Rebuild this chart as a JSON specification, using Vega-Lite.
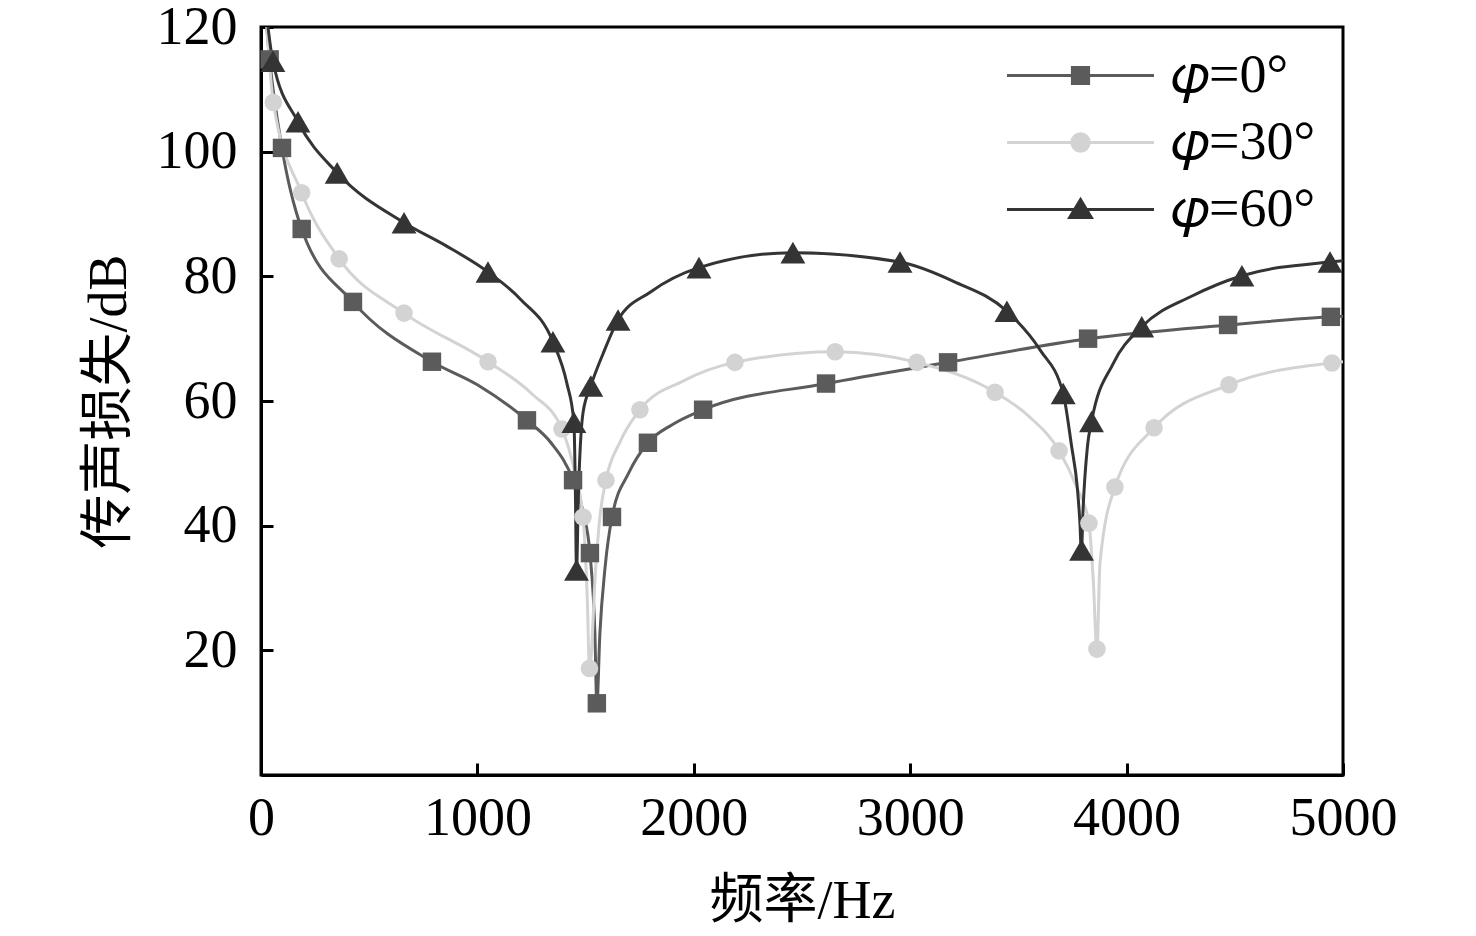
{
  "$schema": "https://vega.github.io/schema/vega-lite/v6.json",
  "description": "Transmission loss vs frequency for three incidence angles",
  "width": 1082,
  "height": 748,
  "autosize": {"type": "none"},
  "padding": {"left": 261, "top": 27, "right": 133, "bottom": 161},
  "background": "white",
  "config": {
    "view": {"stroke": "black", "strokeWidth": 3},
    "axis": {
      "grid": false,
      "domainColor": "black",
      "domainWidth": 3,
      "tickColor": "black",
      "tickWidth": 3,
      "tickSize": -12,
      "labelFont": "Liberation Serif",
      "labelFontSize": 54,
      "labelColor": "black",
      "titleFont": "Liberation Serif, Noto Sans CJK SC",
      "titleFontSize": 54,
      "titleFontWeight": "normal",
      "titleColor": "black"
    }
  },
  "datasets": {
    "curves": [
      {"f": 8, "tl": 128, "phi": "0"}, {"f": 40, "tl": 114.8, "phi": "0"}, {"f": 97, "tl": 100.6, "phi": "0"},
      {"f": 188, "tl": 87.6, "phi": "0"}, {"f": 425, "tl": 75.9, "phi": "0"}, {"f": 790, "tl": 66.3, "phi": "0"},
      {"f": 1000, "tl": 62.6, "phi": "0"}, {"f": 1229, "tl": 56.9, "phi": "0"}, {"f": 1340, "tl": 53.3, "phi": "0"},
      {"f": 1442, "tl": 47.3, "phi": "0"}, {"f": 1490, "tl": 42, "phi": "0"}, {"f": 1520, "tl": 35.6, "phi": "0"},
      {"f": 1543, "tl": 22.7, "phi": "0"}, {"f": 1552, "tl": 11.2, "phi": "0"}, {"f": 1566, "tl": 22.7, "phi": "0"},
      {"f": 1590, "tl": 33.3, "phi": "0"}, {"f": 1622, "tl": 41.4, "phi": "0"}, {"f": 1700, "tl": 48.5, "phi": "0"},
      {"f": 1788, "tl": 53.3, "phi": "0"}, {"f": 1900, "tl": 56.2, "phi": "0"}, {"f": 2043, "tl": 58.6, "phi": "0"},
      {"f": 2611, "tl": 62.8, "phi": "0"}, {"f": 3175, "tl": 66.2, "phi": "0"}, {"f": 3822, "tl": 70.0, "phi": "0"},
      {"f": 4469, "tl": 72.2, "phi": "0"}, {"f": 4944, "tl": 73.5, "phi": "0"}, {"f": 5000, "tl": 73.6, "phi": "0"},

      {"f": 12, "tl": 128, "phi": "30"}, {"f": 57, "tl": 107.9, "phi": "30"}, {"f": 188, "tl": 93.4, "phi": "30"},
      {"f": 361, "tl": 82.8, "phi": "30"}, {"f": 661, "tl": 74.1, "phi": "30"}, {"f": 1049, "tl": 66.3, "phi": "30"},
      {"f": 1250, "tl": 61.2, "phi": "30"}, {"f": 1391, "tl": 55.5, "phi": "30"}, {"f": 1451, "tl": 48.4, "phi": "30"},
      {"f": 1488, "tl": 41.4, "phi": "30"}, {"f": 1508, "tl": 28.0, "phi": "30"}, {"f": 1518, "tl": 16.8, "phi": "30"},
      {"f": 1547, "tl": 33.4, "phi": "30"}, {"f": 1566, "tl": 41.4, "phi": "30"}, {"f": 1594, "tl": 47.3, "phi": "30"},
      {"f": 1660, "tl": 53.5, "phi": "30"}, {"f": 1751, "tl": 58.6, "phi": "30"}, {"f": 1950, "tl": 63.2, "phi": "30"},
      {"f": 2190, "tl": 66.2, "phi": "30"}, {"f": 2653, "tl": 67.9, "phi": "30"}, {"f": 3031, "tl": 66.2, "phi": "30"},
      {"f": 3392, "tl": 61.4, "phi": "30"}, {"f": 3550, "tl": 57.5, "phi": "30"}, {"f": 3688, "tl": 52.0, "phi": "30"},
      {"f": 3769, "tl": 46.2, "phi": "30"}, {"f": 3826, "tl": 40.4, "phi": "30"}, {"f": 3846, "tl": 31.2, "phi": "30"},
      {"f": 3863, "tl": 20.0, "phi": "30"}, {"f": 3877, "tl": 34.0, "phi": "30"}, {"f": 3946, "tl": 46.2, "phi": "30"},
      {"f": 4127, "tl": 55.7, "phi": "30"}, {"f": 4473, "tl": 62.6, "phi": "30"}, {"f": 4949, "tl": 66.1, "phi": "30"},
      {"f": 5000, "tl": 66.3, "phi": "30"},

      {"f": 10, "tl": 127, "phi": "60"}, {"f": 55, "tl": 114.5, "phi": "60"}, {"f": 171, "tl": 104.8, "phi": "60"},
      {"f": 352, "tl": 96.6, "phi": "60"}, {"f": 661, "tl": 88.6, "phi": "60"}, {"f": 850, "tl": 85.0, "phi": "60"},
      {"f": 1049, "tl": 80.7, "phi": "60"}, {"f": 1200, "tl": 76.3, "phi": "60"}, {"f": 1349, "tl": 69.5, "phi": "60"},
      {"f": 1413, "tl": 62.9, "phi": "60"}, {"f": 1446, "tl": 56.6, "phi": "60"}, {"f": 1453, "tl": 45.0, "phi": "60"},
      {"f": 1458, "tl": 32.5, "phi": "60"}, {"f": 1466, "tl": 44.0, "phi": "60"}, {"f": 1488, "tl": 58.1, "phi": "60"},
      {"f": 1524, "tl": 62.4, "phi": "60"}, {"f": 1582, "tl": 67.7, "phi": "60"}, {"f": 1650, "tl": 73.0, "phi": "60"},
      {"f": 1800, "tl": 77.5, "phi": "60"}, {"f": 2024, "tl": 81.4, "phi": "60"}, {"f": 2458, "tl": 83.8, "phi": "60"},
      {"f": 2953, "tl": 82.3, "phi": "60"}, {"f": 3200, "tl": 79.2, "phi": "60"}, {"f": 3447, "tl": 74.4, "phi": "60"},
      {"f": 3600, "tl": 68.2, "phi": "60"}, {"f": 3707, "tl": 61.2, "phi": "60"}, {"f": 3746, "tl": 52.7, "phi": "60"},
      {"f": 3772, "tl": 46.2, "phi": "60"}, {"f": 3785, "tl": 40.0, "phi": "60"}, {"f": 3791, "tl": 35.5, "phi": "60"},
      {"f": 3798, "tl": 42.0, "phi": "60"}, {"f": 3819, "tl": 52.7, "phi": "60"}, {"f": 3838, "tl": 56.7, "phi": "60"},
      {"f": 3938, "tl": 66.0, "phi": "60"}, {"f": 4070, "tl": 71.9, "phi": "60"}, {"f": 4300, "tl": 76.8, "phi": "60"},
      {"f": 4533, "tl": 80.1, "phi": "60"}, {"f": 4940, "tl": 82.3, "phi": "60"}, {"f": 5000, "tl": 82.5, "phi": "60"}
    ],
    "markers": [
      {"f": 40, "tl": 114.8, "phi": "0"}, {"f": 97, "tl": 100.6, "phi": "0"}, {"f": 188, "tl": 87.6, "phi": "0"},
      {"f": 425, "tl": 75.9, "phi": "0"}, {"f": 790, "tl": 66.3, "phi": "0"}, {"f": 1229, "tl": 56.9, "phi": "0"},
      {"f": 1442, "tl": 47.3, "phi": "0"}, {"f": 1520, "tl": 35.6, "phi": "0"}, {"f": 1552, "tl": 11.5, "phi": "0"},
      {"f": 1622, "tl": 41.4, "phi": "0"}, {"f": 1788, "tl": 53.3, "phi": "0"}, {"f": 2043, "tl": 58.6, "phi": "0"},
      {"f": 2611, "tl": 62.8, "phi": "0"}, {"f": 3175, "tl": 66.2, "phi": "0"}, {"f": 3822, "tl": 70.0, "phi": "0"},
      {"f": 4469, "tl": 72.2, "phi": "0"}, {"f": 4944, "tl": 73.5, "phi": "0"},

      {"f": 57, "tl": 107.9, "phi": "30"}, {"f": 188, "tl": 93.4, "phi": "30"}, {"f": 361, "tl": 82.8, "phi": "30"},
      {"f": 661, "tl": 74.1, "phi": "30"}, {"f": 1049, "tl": 66.3, "phi": "30"}, {"f": 1391, "tl": 55.5, "phi": "30"},
      {"f": 1488, "tl": 41.4, "phi": "30"}, {"f": 1518, "tl": 17.1, "phi": "30"}, {"f": 1594, "tl": 47.3, "phi": "30"},
      {"f": 1751, "tl": 58.6, "phi": "30"}, {"f": 2190, "tl": 66.2, "phi": "30"}, {"f": 2653, "tl": 67.9, "phi": "30"},
      {"f": 3031, "tl": 66.2, "phi": "30"}, {"f": 3392, "tl": 61.4, "phi": "30"}, {"f": 3688, "tl": 52.0, "phi": "30"},
      {"f": 3826, "tl": 40.4, "phi": "30"}, {"f": 3863, "tl": 20.2, "phi": "30"}, {"f": 3946, "tl": 46.2, "phi": "30"},
      {"f": 4127, "tl": 55.7, "phi": "30"}, {"f": 4473, "tl": 62.6, "phi": "30"}, {"f": 4949, "tl": 66.1, "phi": "30"},

      {"f": 55, "tl": 114.5, "phi": "60"}, {"f": 171, "tl": 104.8, "phi": "60"}, {"f": 352, "tl": 96.6, "phi": "60"},
      {"f": 661, "tl": 88.6, "phi": "60"}, {"f": 1049, "tl": 80.7, "phi": "60"}, {"f": 1349, "tl": 69.5, "phi": "60"},
      {"f": 1446, "tl": 56.6, "phi": "60"}, {"f": 1458, "tl": 32.9, "phi": "60"}, {"f": 1524, "tl": 62.4, "phi": "60"},
      {"f": 1650, "tl": 73.0, "phi": "60"}, {"f": 2024, "tl": 81.4, "phi": "60"}, {"f": 2458, "tl": 83.8, "phi": "60"},
      {"f": 2953, "tl": 82.3, "phi": "60"}, {"f": 3447, "tl": 74.4, "phi": "60"}, {"f": 3707, "tl": 61.2, "phi": "60"},
      {"f": 3792, "tl": 36.1, "phi": "60"}, {"f": 3838, "tl": 56.7, "phi": "60"}, {"f": 4070, "tl": 71.9, "phi": "60"},
      {"f": 4533, "tl": 80.1, "phi": "60"}, {"f": 4940, "tl": 82.3, "phi": "60"}
    ]
  },
  "layer": [
    {
      "data": {"name": "curves"},
      "mark": {"type": "line", "interpolate": "monotone", "strokeWidth": 3, "clip": true},
      "encoding": {
        "x": {
          "field": "f",
          "type": "quantitative",
          "scale": {"domain": [0, 5000], "nice": false},
          "axis": {
            "title": "频率/Hz",
            "values": [0, 1000, 2000, 3000, 4000, 5000],
            "format": "d",
            "labelFlush": false,
            "labelPadding": 28,
            "titlePadding": 29
          }
        },
        "y": {
          "field": "tl",
          "type": "quantitative",
          "scale": {"domain": [0, 120], "nice": false},
          "axis": {
            "title": "传声损失/dB",
            "values": [20, 40, 60, 80, 100, 120],
            "labelPadding": 36,
            "titlePadding": 20
          }
        },
        "color": {
          "field": "phi",
          "type": "nominal",
          "scale": {"domain": ["0", "30", "60"], "range": ["#5b5b5b", "#d3d3d3", "#343434"]},
          "legend": {
            "title": null,
            "orient": "none",
            "legendX": 788,
            "legendY": 17,
            "padding": 0,
            "symbolSize": 3600,
            "symbolStrokeWidth": 3,
            "labelFont": "Liberation Serif",
            "labelFontSize": 54,
            "labelColor": "black",
            "labelOffset": 59,
            "rowPadding": 8,
            "labelExpr": "'𝜑=' + datum.label + '°'",
            "encode": {
              "labels": {
                "update": {
                  "font": {"value": "Liberation Serif"},
                  "fontSize": {"value": 54}
                }
              },
              "symbols": {
                "update": {
                  "shape": {"signal": "datum.value === '0' ? 'M-2.45,0H2.45M-0.27,-0.27H0.27V0.27H-0.27Z' : datum.value === '30' ? 'M-2.45,0H2.45M0.29,0A0.29,0.29,0,1,1,-0.29,0A0.29,0.29,0,1,1,0.29,0Z' : 'M-2.45,0H2.45M0,-0.33L0.36,0.27L-0.36,0.27Z'"},
                  "fill": {"scale": "color", "field": "value"},
                  "stroke": {"scale": "color", "field": "value"},
                  "strokeWidth": {"value": 3},
                  "strokeOpacity": {"value": 1},
                  "fillOpacity": {"value": 1},
                  "opacity": {"value": 1}
                }
              }
            }
          }
        }
      }
    },
    {
      "data": {"name": "markers"},
      "transform": [{"filter": "datum.phi === '0'"}],
      "mark": {"type": "point", "shape": "square", "size": 340, "filled": true, "opacity": 1, "strokeWidth": 0, "color": "#5b5b5b"},
      "encoding": {
        "x": {"field": "f", "type": "quantitative"},
        "y": {"field": "tl", "type": "quantitative"}
      }
    },
    {
      "data": {"name": "markers"},
      "transform": [{"filter": "datum.phi === '30'"}],
      "mark": {"type": "point", "shape": "circle", "size": 310, "filled": true, "opacity": 1, "strokeWidth": 0, "color": "#d3d3d3"},
      "encoding": {
        "x": {"field": "f", "type": "quantitative"},
        "y": {"field": "tl", "type": "quantitative"}
      }
    },
    {
      "data": {"name": "markers"},
      "transform": [{"filter": "datum.phi === '60'"}],
      "mark": {"type": "point", "shape": "triangle-up", "size": 620, "filled": true, "opacity": 1, "strokeWidth": 0, "color": "#343434"},
      "encoding": {
        "x": {"field": "f", "type": "quantitative"},
        "y": {"field": "tl", "type": "quantitative"}
      }
    }
  ]
}
